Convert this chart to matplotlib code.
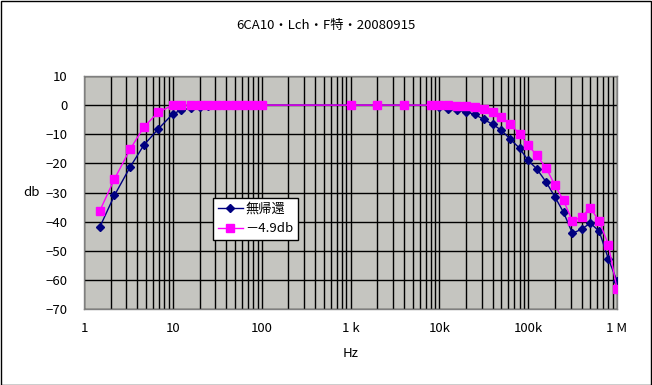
import matplotlib
matplotlib.use("Agg")
import matplotlib.pyplot as plt
from matplotlib.ticker import FixedLocator, NullFormatter
from matplotlib.patches import Rectangle

plt.rcParams['font.family'] = ['Noto Sans CJK JP', 'DejaVu Sans']

title = "6CA10・Lch・F特・20080915"
series_names = ["無帰還", "－4.9db"]

freq_low = [1.5, 2.2, 3.3, 4.7, 6.8, 10, 12.5, 16, 20, 25, 31.5, 40, 50, 63, 80, 100]
freq_mid = [1000, 2000, 4000]
freq_high = [8000, 10000, 12500, 16000, 20000, 25000, 31500, 40000, 50000, 63000,
             80000, 100000, 125000, 160000, 200000, 250000, 315000, 400000,
             500000, 630000, 800000, 1000000]
freqs = freq_low + freq_mid + freq_high

nfb_none = [-42, -31, -21.3, -13.8, -8.3, -3.0, -1.7, -1.0, -0.5, -0.2, 0, 0, 0, 0, 0, 0,
            0, 0, 0,
            -0.1, -0.5, -1.3, -1.7, -2.25, -3.2, -4.9, -6.6, -8.65, -11.7,
            -14.8, -19.0, -21.9, -26.5, -31.5, -36.8, -44.0, -42.6,
            -40.5, -43.3, -52.8, -60.4]
nfb_49 = [-36.4, -25.4, -15.2, -7.6, -2.5, 0, 0, 0, 0, 0, 0, 0, 0, 0, 0, 0,
          0, 0, 0,
          0, 0, 0, -0.3, -0.3, -0.75, -1.4, -2.5, -4.2, -6.6,
          -9.9, -13.8, -17.2, -21.7, -27.5, -32.7, -39.9, -38.3,
          -35.3, -39.8, -48.0, -63.0]

xtick_vals = [1, 10, 100, 1000, 10000, 100000, 1000000]
xtick_labels = ["1", "10", "100", "1 k", "10k", "100k", "1 M"]
ytick_vals = list(range(-70, 11, 10))

W, H = 652, 385
fig = plt.figure(figsize=(W / 100, H / 100), dpi=100)
fig.patch.set_facecolor('white')
fig.add_artist(Rectangle((0.5 / W, 0.5 / H), (W - 1.5) / W, (H - 1.5) / H,
                         transform=fig.transFigure, fill=False,
                         edgecolor='black', linewidth=1.0))

left, right, top, bottom = 84, 617, 76, 309
ax = fig.add_axes([left / W, 1 - bottom / H, (right - left) / W, (bottom - top) / H])
ax.set_facecolor('#c5c5c0')
ax.set_xscale('log')
ax.set_xlim(1, 1e6)
ax.set_ylim(-70, 10)

minor = [m * 10 ** d for d in range(6) for m in range(2, 10)]
ax.xaxis.set_major_locator(FixedLocator(xtick_vals))
ax.xaxis.set_minor_locator(FixedLocator(minor))
ax.xaxis.set_minor_formatter(NullFormatter())
ax.set_xticks(xtick_vals)
ax.set_xticklabels(xtick_labels)
ax.set_yticks(ytick_vals)
ax.tick_params(axis='both', which='both', length=0, labelsize=9.5, colors='black')
ax.tick_params(axis='x', pad=9)
ax.tick_params(axis='y', pad=12)

ax.grid(True, which='both', axis='x', color='black', linewidth=1.0)
ax.grid(True, which='major', axis='y', color='black', linewidth=1.0)
ax.set_axisbelow(True)
for s in ax.spines.values():
    s.set_color('#808080')
    s.set_linewidth(1.0)

ax.plot(freqs, nfb_none, color='#000080', linewidth=1.0, marker='D',
        markersize=4.5, markerfacecolor='#000080', markeredgecolor='#000080',
        label=series_names[0], zorder=3)
ax.plot(freqs, nfb_49, color='#ff00ff', linewidth=1.0, marker='s',
        markersize=6, markerfacecolor='#ff00ff', markeredgecolor='#ff00ff',
        label=series_names[1], zorder=4)

leg = ax.legend(loc='lower left', bbox_to_anchor=((213 - left) / (right - left),
                                                 (bottom - 240) / (bottom - top)),
                frameon=True, fancybox=False, framealpha=1, edgecolor='black',
                fontsize=9.5, handlelength=1.9, borderpad=0.35, labelspacing=0.5,
                handletextpad=0.2, borderaxespad=0)
leg.get_frame().set_linewidth(1.0)

ax.set_xlabel("Hz", fontsize=9.5, labelpad=9)
ax.set_ylabel("db", fontsize=9.5, rotation=0, labelpad=10, va='center')
fig.text(326 / W, 1 - 25 / H, title, ha='center', va='center', fontsize=9.5)

fig.savefig("out.png", dpi=100)
